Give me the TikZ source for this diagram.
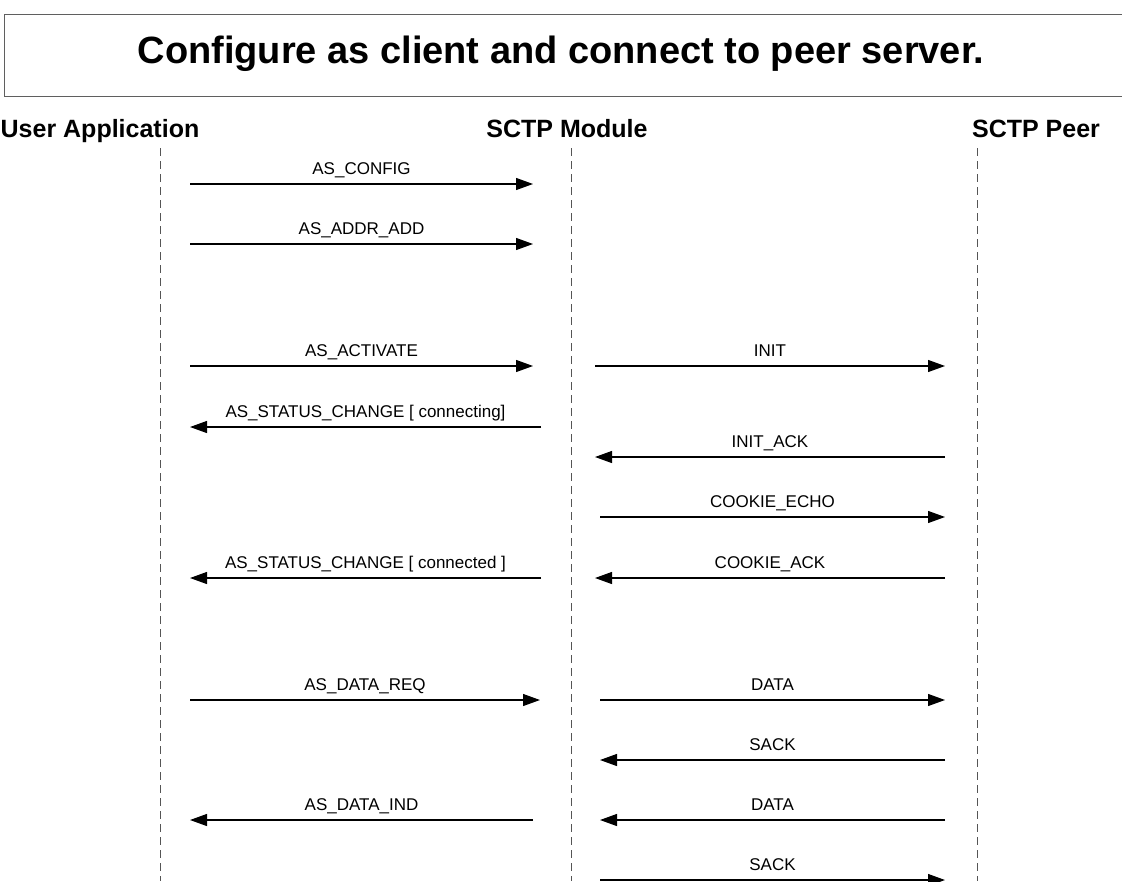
\documentclass[tikz,border=0pt]{standalone}
\usepackage{fontspec}
\setmainfont{Liberation Sans}
\usetikzlibrary{arrows.meta, positioning}
\definecolor{LifeGrey}{HTML}{555555}
\definecolor{FrameGrey}{HTML}{5F5F5F}

\tikzset{
  lifeline/.style={draw=LifeGrey, line width=0.9pt, dash pattern=on 8pt off 5pt},
  msg/.style={draw=black, line width=1.2pt, -{Triangle[length=17pt,width=12pt]}},
  msglabel/.style={anchor=base, yshift=10pt, inner sep=0pt,
                   font=\fontsize{17}{20}\selectfont},
  header/.style={anchor=base, inner sep=0pt,
                 font=\fontsize{25}{30}\selectfont\bfseries},
}

\begin{document}
\begin{tikzpicture}[x=1pt, y=-1pt]
    \useasboundingbox (0,0) rectangle (1122,881);

    % Title box
    \node[draw=FrameGrey, line width=1.2pt, minimum width=1140pt, minimum height=82pt,
          anchor=north west, inner sep=0pt] (titlebox) at (4,14) {};
    \node[anchor=base, inner sep=0pt, font=\fontsize{38}{44}\selectfont\bfseries]
          (title) at (561,63) {Configure as client and connect to peer server.};

    % Lifeline headers
    \node[header] (ua) at (100,137) {User Application};
    \node[header] (sm) at (567,137) {SCTP Module};
    \node[header] (sp) at (1036,137) {SCTP Peer};

    % Lifelines
    \foreach \nm/\x in {ua/160, sm/571, sp/977} {
        \coordinate (\nm-top) at (\x,148);
        \coordinate (\nm-end) at (\x,881);
        \draw[lifeline] (\nm-top) -- (\nm-end);
    }

    % Messages: y / start x / end x / label / name
    \foreach \y/\xa/\xb/\txt/\nm in {
        184/190/533/{AS\_CONFIG}/cfg,
        244/190/533/{AS\_ADDR\_ADD}/addr,
        366/190/533/{AS\_ACTIVATE}/act,
        366/595/945/{INIT}/init,
        427/541/190/{AS\_STATUS\_CHANGE [ connecting]}/stcing,
        457/945/595/{INIT\_ACK}/initack,
        517/600/945/{COOKIE\_ECHO}/echo,
        578/541/190/{AS\_STATUS\_CHANGE [ connected ]}/stced,
        578/945/595/{COOKIE\_ACK}/cack,
        700/190/540/{AS\_DATA\_REQ}/dreq,
        700/600/945/{DATA}/dout,
        760/945/600/{SACK}/sackin,
        820/533/190/{AS\_DATA\_IND}/dind,
        820/945/600/{DATA}/din,
        880/600/945/{SACK}/sackout} {
        \coordinate (\nm-s) at (\xa,\y);
        \coordinate (\nm-e) at (\xb,\y);
        \draw[msg] (\nm-s) -- node[msglabel] {\txt} (\nm-e);
    }
\end{tikzpicture}
\end{document}
